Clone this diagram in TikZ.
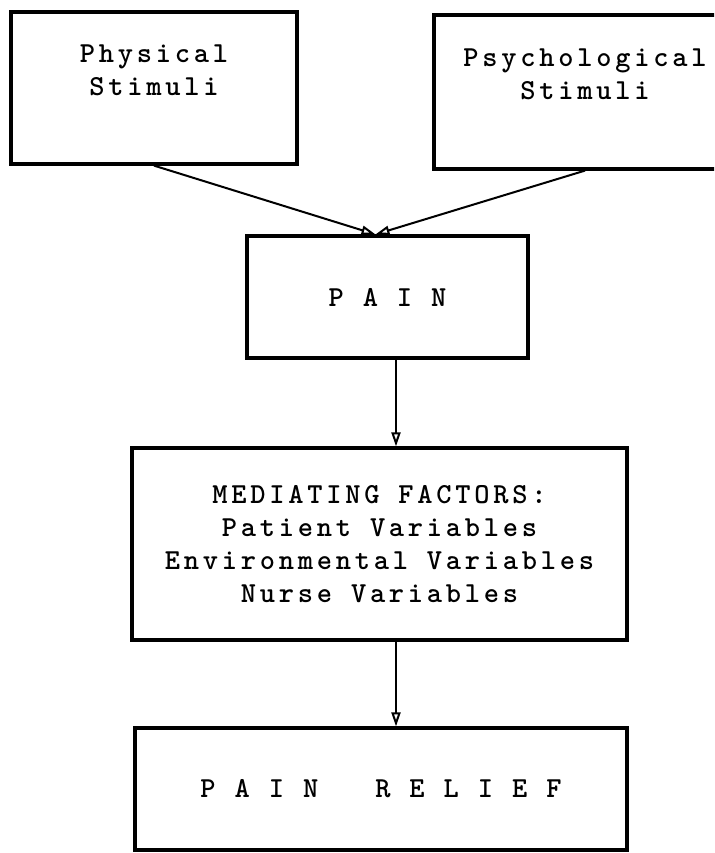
\documentclass[tikz,border=0pt]{standalone}
\usepackage{fontspec}
\newfontfamily\typewfont{lmmonolt10-bold.otf}[LetterSpace=13]
\usetikzlibrary{arrows.meta,calc}
\tikzset{%
  font=\fontsize{14.5}{16.5}\typewfont,
  box/.style  = {draw, rectangle, line width=1.6pt, inner sep=0pt, align=center},
  line/.style = {draw, line width=1pt, -{Triangle[open,length=7pt,width=4.5pt]}}
}
\begin{document}
\begin{tikzpicture}[x=0.5pt,y=-0.5pt]
	\useasboundingbox (0,0) rectangle (714,853);
	\clip (0,0) rectangle (714,853);
	% stimuli
	\node[box,minimum width=143pt,minimum height=76pt,text depth=18pt] (phys) at (154,88) {Physical\\Stimuli};
	\node[box,minimum width=151pt,minimum height=77pt,text depth=18pt] (psych) at (585,92) {Psychological\\Stimuli};
	% chain
	\node[box,minimum width=140.5pt,minimum height=61pt] (pain) at (387.5,297) {P~A~I~N};
	\node[box,minimum width=247.5pt,minimum height=96pt] (med) at (379.5,544)
		{MEDIATING FACTORS:\\Patient Variables\\Environmental Variables\\Nurse Variables};
	\node[box,minimum width=246pt,minimum height=61pt] (relief) at (381,789) {P~A~I~N~~~R~E~L~I~E~F};
	% connectors
	\coordinate (meet) at ($(pain.north)+(-12,0)$);
	\coordinate (axis) at (396,0);
	\path[line] (phys.south) -- (meet);
	\path[line] (psych.south) -- (meet);
	\path[line] (pain.south -| axis) -- (med.north -| axis);
	\path[line] (med.south -| axis) -- (relief.north -| axis);
\end{tikzpicture}
\end{document}
